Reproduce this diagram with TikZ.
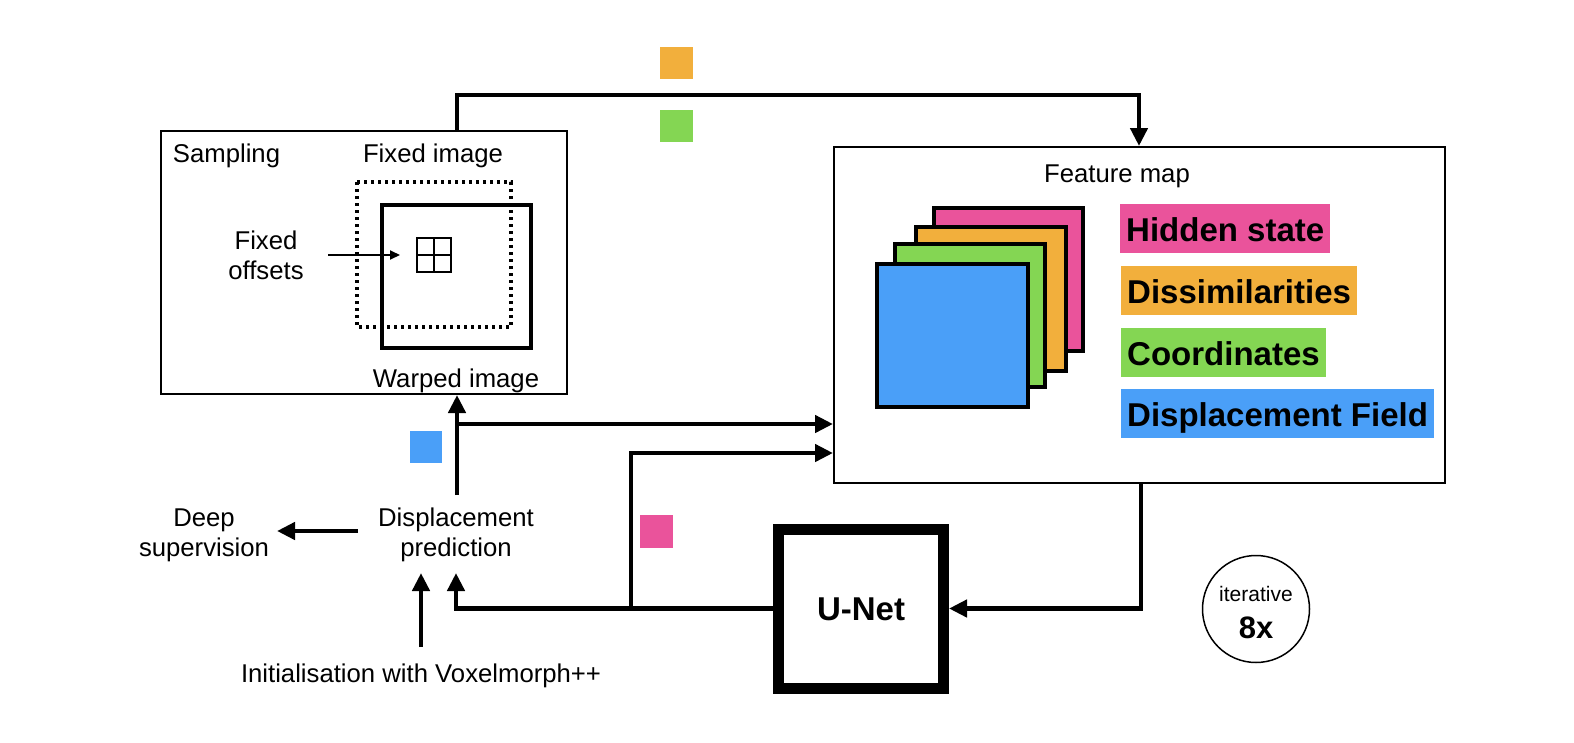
\documentclass[tikz,border=0pt]{standalone}
\usepackage{fontspec}
\setmainfont{Liberation Sans}
\usetikzlibrary{arrows.meta,calc}
\definecolor{cpink}{RGB}{234,83,155}
\definecolor{corange}{RGB}{242,175,60}
\definecolor{cgreen}{RGB}{132,214,83}
\definecolor{cblue}{RGB}{74,159,248}
\begin{document}
\begin{tikzpicture}[x=1pt,y=-1pt,
  lbl/.style={font=\fontsize{25.7}{30}\selectfont, inner sep=0pt, anchor=base},
  ml/.style={font=\fontsize{25.7}{30}\selectfont, inner sep=0pt, align=center},
  conn/.style={line width=4.4pt},
  arr/.style={conn, -{Triangle[length=18pt,width=17pt]}},
  thinarr/.style={line width=2pt, -{Triangle[length=10pt,width=9pt]}},
  frame/.style={draw, line width=2pt, inner sep=0pt},
  tag/.style={font=\fontsize{33}{38}\selectfont\bfseries, inner xsep=6pt, inner ysep=0pt, text height=37pt, text depth=12pt, anchor=base west},
  layer/.style={draw, line width=4pt},
]
\useasboundingbox (0,0) rectangle (1574,742);

% ---------- Sampling box ----------
\node[frame, minimum width=406pt, minimum height=263pt] (samp) at (364,262.5) {};
\node[lbl] (samplbl) at (226.5,162) {Sampling};
\node[lbl] (fixlbl) at (433,162) {Fixed image};
\node[lbl] (warplbl) at (456,387) {Warped image};
\node[ml] (offs) at (266,255) {Fixed\\offsets};
% dotted fixed image window
\draw[line width=3.3pt, dash pattern=on 3.3pt off 3.7pt] (357,182) rectangle (511,327);
% warped image
\draw[line width=4pt] (382,205) rectangle (531,348);
% sampling grid
\node[draw, line width=2pt, minimum width=34pt, minimum height=34pt, inner sep=0pt] (grid) at (434,255) {};
\draw[line width=2pt] (grid.north) -- (grid.south) (grid.west) -- (grid.east);
\coordinate (offA) at (328,255);
\draw[thinarr] (offA) -- (400,255);

% ---------- Feature map box ----------
\node[frame, minimum width=611pt, minimum height=336pt] (feat) at (1139.5,315) {};
\node[lbl] (featlbl) at (1117,182) {Feature map};
\draw[layer, fill=cpink] (934,208) rectangle (1083,351);
\draw[layer, fill=corange] (916,227) rectangle (1066,371);
\draw[layer, fill=cgreen] (895,244) rectangle (1045,387);
\draw[layer, fill=cblue] (877,264) rectangle (1028,407);
\node[tag, fill=cpink] (thid) at (1120,241) {Hidden state};
\node[tag, fill=corange] (tdis) at (1121,303) {Dissimilarities};
\node[tag, fill=cgreen] (tcoo) at (1121,365) {Coordinates};
\node[tag, fill=cblue] (tdsp) at (1121,426) {Displacement Field};

% ---------- U-Net ----------
\node[draw, line width=11pt, minimum width=165pt, minimum height=159pt, inner sep=0pt] (unet) at (861,608.5) {};
\node[font=\fontsize{33}{40}\selectfont\bfseries, inner sep=0pt, anchor=base] (unetlbl) at (861,620) {U-Net};

% ---------- iterative ----------
\node[draw, circle, line width=1.5pt, minimum size=107pt, inner sep=0pt] (iter) at (1256,609) {};
\node[font=\fontsize{21}{25}\selectfont, inner sep=0pt, anchor=base] (itlbl) at (1256,601) {iterative};
\node[font=\fontsize{31}{36}\selectfont\bfseries, inner sep=0pt, anchor=base] (itnum) at (1256,638) {8x};

% ---------- bottom left labels ----------
\node[ml] (dp) at (456,535) {Displacement\\prediction};
\node[ml] (ds) at (204,535) {Deep\\supervision};
\node[lbl] (init) at (421,682) {Initialisation with Voxelmorph++};

% ---------- colour squares ----------
\fill[corange] (660,47) rectangle (693,79);
\fill[cgreen] (660,110) rectangle (693,142);
\fill[cblue] (410,431) rectangle (442,463);
\fill[cpink] (640,515) rectangle (673,548);

% ---------- connectors ----------
\coordinate (tl) at (457,95);
\coordinate (tr) at (1139,95);
\draw[arr] (tl |- samp.north) -- (tl) -- (tr) -- (tr |- feat.north);

\coordinate (dpTop) at (457,495);
\draw[arr] (dpTop) -- (dpTop |- samp.south);

\coordinate (b1) at (457,424);
\draw[arr] (b1) -- (b1 -| feat.west);

\coordinate (b2) at (631,608);
\coordinate (b2t) at (631,453);
\draw[arr] (b2) -- (b2t) -- (b2t -| feat.west);

\coordinate (dpIn) at (456,573);
\draw[arr] (unet.west) -| (dpIn);

\coordinate (fr) at (1141,608);
\draw[arr] (feat.south -| fr) |- (unet.east);

\coordinate (initBot) at (421,647);
\coordinate (initTop) at (421,573);
\draw[arr] (initBot) -- (initTop);

\coordinate (dsA) at (358,531);
\coordinate (dsB) at (277,531);
\draw[arr] (dsA) -- (dsB);
\end{tikzpicture}
\end{document}
